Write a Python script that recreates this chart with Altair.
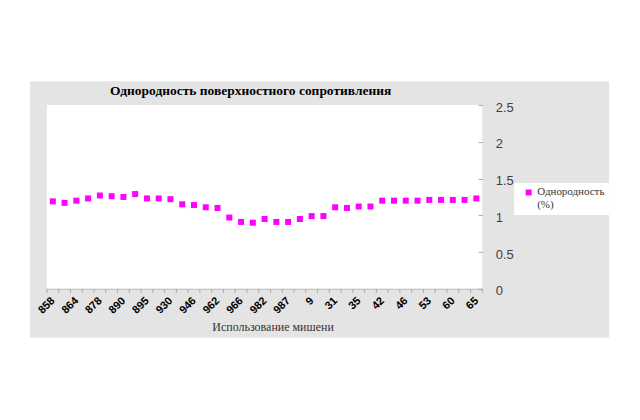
import json
import altair as alt
import pandas as pd

# ---- data ----
tick_labels = ["858", "864", "878", "890", "895", "930", "946", "962", "966", "982",
               "987", "9", "31", "35", "42", "46", "53", "60", "65"]
values = [1.19, 1.17, 1.20, 1.23, 1.27, 1.26, 1.25, 1.29, 1.23, 1.23,
          1.22, 1.15, 1.14, 1.11, 1.10, 0.97, 0.91, 0.90, 0.95, 0.91,
          0.91, 0.95, 0.99, 0.99, 1.11, 1.10, 1.12, 1.12, 1.20, 1.20,
          1.20, 1.20, 1.21, 1.21, 1.21, 1.21, 1.23]
y_ticks = [0, 0.5, 1, 1.5, 2, 2.5]
series_name = "Однородность (%)"
chart_title = "Однородность поверхностного сопротивления"
x_title = "Использование мишени"

n = len(values)
df = pd.DataFrame({"idx": list(range(n)), "value": values, "series": [series_name] * n})
bounds = pd.DataFrame({"idx": [i - 0.5 for i in range(n + 1)]})

W, H = 436, 184
xscale = alt.Scale(domain=[-0.5, n - 0.5], nice=False, zero=False)
yscale = alt.Scale(domain=[0, 2.5], nice=False, zero=True)

x_axis = alt.Axis(
    values=list(range(0, n, 2)),
    labelExpr=f"{json.dumps(tick_labels)}[datum.value / 2]",
    ticks=False, grid=False, domain=True, domainColor="#bfbfbf",
    labelAngle=-45, labelAlign="right", labelBaseline="middle", labelPadding=10,
    labelFont="Liberation Sans", labelFontSize=11, labelFontWeight="bold",
    labelColor="#000000",
    labelFlush=False, labelOverlap=False,
    title=x_title, titleFont="Liberation Serif", titleFontSize=12,
    titleFontWeight="normal", titleColor="#333333",
    titleX=226, titleY=38, titleBaseline="middle", titleAlign="center",
    zindex=1,
)
y_axis = alt.Axis(
    orient="right", values=y_ticks, format="~g", grid=False, domain=False,
    tickSize=4, tickColor="#a6a6a6", offset=-4, labelPadding=13,
    labelFont="Liberation Sans", labelFontSize=13, labelColor="#404040",
    labelOffset=2, labelAlign="left", labelBaseline="middle", labelFlush=False,
    title=None, zindex=1,
)

bg = alt.Chart(alt.Data(values=[{}])).mark_rect(color="#e4e4e4").encode(
    x=alt.value(-17), x2=alt.value(563), y=alt.value(-24), y2=alt.value(233)
)
plot_bg = alt.Chart(alt.Data(values=[{}])).mark_rect(color="white").encode(
    x=alt.value(0), x2=alt.value(W), y=alt.value(0), y2=alt.value(H)
)
ticks = alt.Chart(bounds).mark_rule(color="#a6a6a6", strokeWidth=1).encode(
    x=alt.X("idx:Q", scale=xscale, axis=x_axis, title=x_title),
    y=alt.value(H),
    y2=alt.value(H + 4),
)

points = alt.Chart(df).mark_square(size=36, opacity=1).encode(
    x=alt.X("idx:Q", scale=xscale, axis=x_axis, title=x_title),
    y=alt.Y("value:Q", scale=yscale, axis=y_axis),
    color=alt.Color(
        "series:N",
        scale=alt.Scale(range=["#ff00ff"]),
        legend=alt.Legend(
            title=None, orient="none", legendX=468, legendY=78,
            fillColor="white", padding=4, symbolOffset=5,
            symbolType="square", symbolSize=36, symbolStrokeWidth=0,
            labelFont="Liberation Serif", labelFontSize=11, labelColor="#333333",
            labelOffset=3, labelExpr="split(datum.label, ' ')", zindex=1,
        ),
    ),
)

chart = alt.layer(bg, plot_bg, ticks, points).properties(
    width=W,
    height=H,
    title=alt.TitleParams(
        text=chart_title, font="Liberation Serif", fontSize=13.5, fontWeight="bold",
        color="#000000", anchor="middle", dx=-14, offset=-16, frame="group", zindex=1,
    ),
    padding={"left": 39, "top": 97, "right": 150, "bottom": 60},
    autosize=alt.AutoSizeParams(type="none"),
    background="white",
).configure_view(stroke=None)

chart.save("out.html", embed_options={"renderer": "svg", "actions": False})
